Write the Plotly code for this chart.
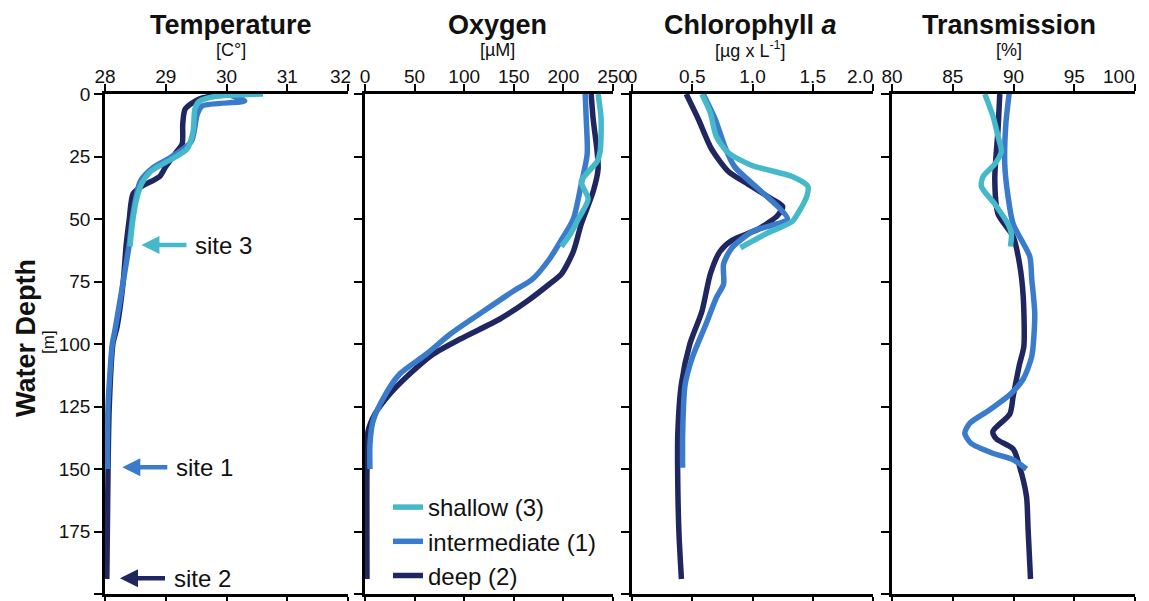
import plotly.graph_objects as go

# ---------------- data ----------------
series_names = ["shallow (3)", "intermediate (1)", "deep (2)"]
series_colors = ["#45B8CA", "#3A7BCB", "#1F2660"]

# Temperature [C°]
temp_depth_shallow = [0, 1, 3, 6, 15, 22, 26, 31, 36, 42, 50, 61]
temp_shallow = [30.6, 29.8, 29.55, 29.48, 29.45, 29.35, 29.1, 28.75, 28.6, 28.52, 28.46, 28.41]
temp_depth_inter = [0, 2.8, 4.8, 8, 19, 25.5, 29.5, 35, 48, 60, 75, 95, 100, 125, 150]
temp_inter = [30.0, 30.3, 29.6, 29.52, 29.42, 29.07, 28.79, 28.58, 28.46, 28.4, 28.3, 28.16, 28.12, 28.05, 28.04]
temp_depth_deep = [0, 2, 6, 12, 20, 24, 29, 33, 37, 40, 50, 60, 75, 93, 100, 125, 150, 194]
temp_deep = [29.95, 29.55, 29.32, 29.28, 29.27, 29.15, 29.0, 28.9, 28.6, 28.46, 28.4, 28.35, 28.3, 28.2, 28.13, 28.07, 28.05, 28.03]

# Oxygen [µM]
oxy_depth_shallow = [0, 10, 23, 27, 35, 42, 50, 56, 61]
oxy_shallow = [235, 238, 237, 234, 218, 225, 215, 207, 198]
oxy_depth_inter = [0, 10, 24, 36, 50, 59, 66, 74, 79, 87, 96, 104, 112, 122, 131, 140, 150]
oxy_inter = [222, 223, 224, 218, 210, 197, 186, 169, 149, 119, 86, 62, 35, 18, 8, 5, 5]
oxy_depth_deep = [0, 10, 23, 30, 39, 52, 63, 72, 76, 83, 90, 98, 104, 112, 120, 128, 135, 150, 194]
oxy_deep = [228, 230, 234, 235, 230, 218, 210, 198, 186, 163, 136, 96, 69, 45, 25, 10, 3, 2, 2]

# Chlorophyll a [µg x L-1]
chl_depth_shallow = [0, 7.5, 17, 23.5, 28.5, 33, 37, 41, 47.5, 51, 55.5, 61.5]
chl_shallow = [0.58, 0.65, 0.70, 0.80, 0.99, 1.33, 1.46, 1.45, 1.38, 1.33, 1.13, 0.90]
chl_depth_inter = [0, 10, 21, 29, 38, 45, 50, 55, 61.5, 68, 76, 81.5, 92.5, 105.5, 116.5, 136.5, 149.5]
chl_inter = [0.59, 0.69, 0.77, 0.85, 1.05, 1.21, 1.29, 1.0, 0.83, 0.76, 0.76, 0.70, 0.61, 0.50, 0.44, 0.42, 0.42]
chl_depth_deep = [0, 10, 22, 31, 36, 42, 45, 48.5, 54, 58.5, 63, 72, 87, 100, 116, 136, 156, 176, 194]
chl_deep = [0.45, 0.55, 0.66, 0.80, 0.96, 1.16, 1.25, 1.21, 1.05, 0.83, 0.73, 0.65, 0.58, 0.48, 0.41, 0.38, 0.38, 0.39, 0.41]

# Transmission [%]
tr_depth_shallow = [0, 9, 17, 23, 28, 33, 37, 44, 52, 56, 61]
tr_shallow = [87.64, 88.32, 88.73, 89.0, 88.46, 87.5, 87.36, 88.46, 89.55, 89.83, 89.75]
tr_depth_inter = [0, 12, 28, 41, 52, 65, 74, 88, 105, 114, 119.7, 126.3, 131.7, 135.7, 139.7, 143.7, 146.3, 150]
tr_inter = [89.64, 89.37, 89.28, 89.55, 89.97, 91.34, 91.5, 91.75, 91.5, 90.8, 89.83, 88.05, 86.4, 85.99, 86.5, 88.3, 89.97, 91.07]
tr_depth_deep = [0, 14, 34, 48, 57, 68, 81, 101, 108, 121, 128, 135, 138, 142, 149, 161, 174, 194]
tr_deep = [88.87, 88.73, 88.46, 88.73, 89.97, 90.5, 90.8, 90.85, 90.5, 89.97, 89.7, 88.3, 88.6, 89.97, 90.5, 91.07, 91.2, 91.4]

# axes / ticks
depth_ticks = [0, 25, 50, 75, 100, 125, 150, 175, 200]
temp_ticks = [28, 29, 30, 31, 32]
temp_ticktext = ["28", "29", "30", "31", "32"]
oxy_ticks = [0, 50, 100, 150, 200, 250]
oxy_ticktext = ["0", "50", "100", "150", "200", "250"]
chl_ticks = [0, 0.5, 1.0, 1.5, 2.0]
chl_ticktext = ["0", "0.5", "1.0", "1.5", "2.0"]
tr_ticks = [80, 85, 90, 95, 100]
tr_ticktext = ["80", "85", "90", "95", "100"]

panel_titles = ["<b>Temperature</b>", "<b>Oxygen</b>", "<b>Chlorophyll <i>a</i></b>", "<b>Transmission</b>"]
panel_units = ["[C°]", "[µM]", "[µg x L<sup>-1</sup>]", "[%]"]

site_labels = ["site 3", "site 1", "site 2"]
site_head_temp = [28.6, 28.285, 28.247]
site_depth = [60.4, 149.3, 193.7]

# ---------------- figure ----------------
OFF = 8  # default page body margin
W, H = 1149 - OFF, 601 - OFF
FONT = "Liberation Sans, Arial, sans-serif"
TXT = "#111111"

def px_x(p):
    return (p - OFF) / W

def px_y(p):
    return 1 - (p - OFF) / H

panel_px = [(105, 348), (365, 613), (632, 873), (892, 1135)]
top_px, bot_px = 94, 594

fig = go.Figure()

panels = [
    ([temp_depth_shallow, temp_depth_inter, temp_depth_deep], [temp_shallow, temp_inter, temp_deep]),
    ([oxy_depth_shallow, oxy_depth_inter, oxy_depth_deep], [oxy_shallow, oxy_inter, oxy_deep]),
    ([chl_depth_shallow, chl_depth_inter, chl_depth_deep], [chl_shallow, chl_inter, chl_deep]),
    ([tr_depth_shallow, tr_depth_inter, tr_depth_deep], [tr_shallow, tr_inter, tr_deep]),
]

for pi, (depths, vals) in enumerate(panels):
    xa = "x" if pi == 0 else f"x{pi+1}"
    ya = "y" if pi == 0 else f"y{pi+1}"
    for si in [2, 1, 0]:
        fig.add_trace(go.Scatter(
            x=vals[si], y=depths[si], mode="lines",
            line=dict(color=series_colors[si], width=5.5, shape="spline", smoothing=0.7),
            name=series_names[si], legendgroup=series_names[si],
            showlegend=(pi == 1), legendrank=si + 1,
            xaxis=xa, yaxis=ya, hoverinfo="skip",
        ))

x_ranges = [[28, 32], [0, 250], [0, 2], [80, 100]]
x_tickvals = [temp_ticks, oxy_ticks, chl_ticks, tr_ticks]
x_ticktexts = [temp_ticktext, oxy_ticktext, chl_ticktext, tr_ticktext]
# panels whose last label is right-aligned near its tick (to clear the next panel's first label)
right_aligned_last = [True, False, True, True]
last_label_shift = [5, 0, 2, 2]

layout = dict(
    width=W, height=H,
    margin=dict(l=0, r=0, t=0, b=0, autoexpand=False),
    paper_bgcolor="white", plot_bgcolor="white",
    font=dict(family=FONT, color=TXT),
    showlegend=True,
    legend=dict(
        x=px_x(388), y=px_y(485), xanchor="left", yanchor="top",
        font=dict(size=24, family=FONT, color=TXT),
        bgcolor="rgba(255,255,255,0)", tracegroupgap=0, itemwidth=30,
    ),
)

tick_style = dict(ticks="outside", ticklen=7, tickwidth=2, tickcolor="black")

for pi in range(4):
    sfx = "" if pi == 0 else str(pi + 1)
    x0, x1 = panel_px[pi]
    tv = list(x_tickvals[pi])
    tt = list(x_ticktexts[pi])
    minor = None
    if right_aligned_last[pi]:
        minor = dict(tickvals=[tv[-1]], showgrid=False, **tick_style)
        tv, tt = tv[:-1], tt[:-1]
    ax = dict(
        domain=[px_x(x0), px_x(x1)], range=x_ranges[pi], side="top",
        anchor="y" + sfx, automargin=False,
        tickvals=tv, ticktext=tt,
        showline=True, linecolor="black", linewidth=2.5, mirror="ticks",
        ticklabelstandoff=-6,
        showgrid=False, zeroline=False,
        tickfont=dict(size=19, family=FONT, color=TXT),
        **tick_style,
    )
    if minor is not None:
        ax["minor"] = minor
    layout[f"xaxis{sfx}"] = ax
    layout[f"yaxis{sfx}"] = dict(
        domain=[px_y(bot_px), px_y(top_px)], range=[200, 0],
        anchor="x" + sfx, automargin=False,
        tickvals=depth_ticks, ticktext=[str(v) for v in depth_ticks],
        showticklabels=(pi == 0),
        showline=True, linecolor="black", linewidth=2.5,
        ticks="outside", ticklen=8, tickwidth=2, tickcolor="black",
        showgrid=False, zeroline=False,
        tickfont=dict(size=19, family=FONT, color=TXT),
    )

fig.update_layout(**layout)

# right-aligned last tick labels
for pi in range(4):
    if right_aligned_last[pi]:
        sfx = "" if pi == 0 else str(pi + 1)
        fig.add_annotation(text=x_ticktexts[pi][-1], x=x_tickvals[pi][-1], y=px_y(77),
                           xref="x" + sfx, yref="paper", showarrow=False,
                           xanchor="right", yanchor="middle", xshift=last_label_shift[pi],
                           font=dict(size=19, family=FONT, color=TXT))

# panel titles and units
title_cx = [231, 497, 750, 1009]
for pi in range(4):
    fig.add_annotation(text=panel_titles[pi], x=px_x(title_cx[pi]), y=px_y(25),
                       xref="paper", yref="paper", showarrow=False,
                       xanchor="center", yanchor="middle",
                       font=dict(size=27, family=FONT, color=TXT))
    fig.add_annotation(text=panel_units[pi], x=px_x(title_cx[pi]), y=px_y(50),
                       xref="paper", yref="paper", showarrow=False,
                       xanchor="center", yanchor="middle",
                       font=dict(size=18, family=FONT, color=TXT))

# y-axis title
fig.add_annotation(text="<b>Water Depth</b>", x=px_x(26), y=px_y(338), xref="paper", yref="paper",
                   showarrow=False, textangle=-90, xanchor="center", yanchor="middle",
                   font=dict(size=27, family=FONT, color=TXT))
fig.add_annotation(text="[m]", x=px_x(48), y=px_y(342), xref="paper", yref="paper",
                   showarrow=False, textangle=-90, xanchor="center", yanchor="middle",
                   font=dict(size=17, family=FONT, color=TXT))

# site arrows with labels
site_colors = [series_colors[0], series_colors[1], series_colors[2]]
for lab, hx, d, c in zip(site_labels, site_head_temp, site_depth, site_colors):
    fig.add_annotation(x=hx, y=d, xref="x", yref="y", text=lab, showarrow=True,
                       ax=82, ay=0, arrowhead=2, arrowsize=0.8, arrowwidth=4.5, arrowcolor=c,
                       standoff=0, startstandoff=7,
                       font=dict(size=24, family=FONT, color=TXT))

fig.write_html("out.html")
